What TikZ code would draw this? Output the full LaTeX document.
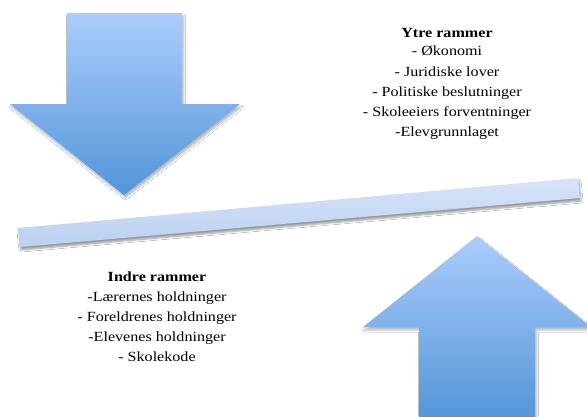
\documentclass[tikz,border=0pt]{standalone}
\usepackage{fontspec}
\setmainfont{Liberation Serif}[FakeStretch=1.15]
\usetikzlibrary{shadows.blur}
\definecolor{arrowtop}{HTML}{ABCDFD}
\definecolor{arrowbot}{HTML}{5395D8}
\definecolor{bartop}{HTML}{D6E4F9}
\definecolor{barbot}{HTML}{BBD0F0}
\tikzset{
  bigarrow/.style={top color=arrowtop, bottom color=arrowbot,
    blur shadow={shadow xshift=1.5pt, shadow yshift=-3pt, shadow blur radius=2pt, shadow blur steps=6, shadow opacity=28}},
  beam/.style={top color=bartop, bottom color=barbot,
    blur shadow={shadow xshift=1pt, shadow yshift=-3pt, shadow blur radius=2pt, shadow blur steps=6, shadow opacity=40}},
  listtext/.style={align=center, font=\fontsize{14}{20}\selectfont, inner sep=0pt}
}
\begin{document}
\begin{tikzpicture}[x=1pt,y=-1pt]
\useasboundingbox (0,0) rectangle (587,416);
\fill[white] (0,0) rectangle (587,416);
% down arrow
\shade[bigarrow] (67,13) -- (182,13) -- (182,104) -- (240,104) -- (124,195) -- (10,104) -- (67,104) -- cycle;
% beam
\shade[beam] (18,228) -- (578,178) -- (580,198) -- (20,247) -- cycle;
% up arrow
\shade[bigarrow] (477,236) -- (591,327) -- (535,327) -- (535,420) -- (419,420) -- (419,327) -- (363,327) -- cycle;
% texts
\node[listtext, anchor=north] (ytre) at (447,28) {\textbf{Ytre rammer}\\[-2pt]- Økonomi\\[1pt]- Juridiske lover\\- Politiske beslutninger\\- Skoleeiers forventninger\\-Elevgrunnlaget};
\node[listtext, anchor=north] (indre) at (157,272) {\textbf{Indre rammer}\\-Lærernes holdninger\\- Foreldrenes holdninger\\-Elevenes holdninger\\- Skolekode};
\end{tikzpicture}
\end{document}
